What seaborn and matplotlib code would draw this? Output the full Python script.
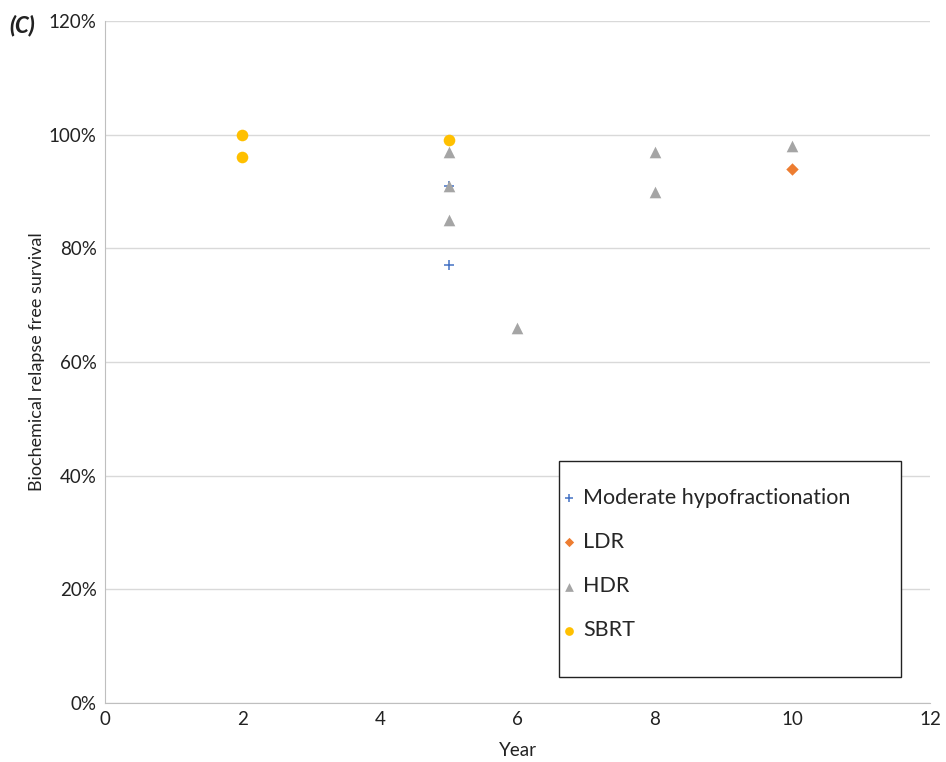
import pandas as pd
import matplotlib.pyplot as plt
from matplotlib.patches import Rectangle
from matplotlib.ticker import PercentFormatter
import seaborn as sns

# Values (year, % survival)
hypo_years = [5, 5]
hypo_rfs = [91, 77]
ldr_years = [10]
ldr_rfs = [94]
hdr_years = [5, 5, 5, 6, 8, 8, 10]
hdr_rfs = [97, 91, 85, 66, 97, 90, 98]
sbrt_years = [2, 2, 5]
sbrt_rfs = [100, 96, 99]

groups = ['Moderate hypofractionation', 'LDR', 'HDR', 'SBRT']
colors = ['#4472C4', '#ED7D31', '#A5A5A5', '#FFC000']

rows = []
for name, xs, ys in zip(groups,
                        [hypo_years, ldr_years, hdr_years, sbrt_years],
                        [hypo_rfs, ldr_rfs, hdr_rfs, sbrt_rfs]):
    for x, y in zip(xs, ys):
        rows.append({'Year': x, 'RFS': y, 'Group': name})
df = pd.DataFrame(rows)

sns.set_style('white')
plt.rcParams['font.family'] = ['Lato', 'DejaVu Sans']

fig = plt.figure(figsize=(9.46, 7.62), dpi=100)
ax = fig.add_axes([0.111, 0.0774, 0.872, 0.895])

pal = dict(zip(groups, colors))
mk = dict(zip(groups, ['+', 'D', '^', 'o']))
sizes = {'Moderate hypofractionation': 50, 'LDR': 40, 'HDR': 70, 'SBRT': 70}
zo = {'Moderate hypofractionation': 2.5, 'LDR': 3, 'HDR': 3.5, 'SBRT': 4}

for g in groups:
    sub = df[df['Group'] == g]
    sns.scatterplot(data=sub, x='Year', y='RFS', ax=ax, color=pal[g],
                    marker=mk[g], s=sizes[g],
                    linewidth=1.1 if g == groups[0] else 0,
                    label=g, zorder=zo[g])

ax.set_xlim(0, 12)
ax.set_ylim(0, 120)
ax.set_xticks(range(0, 13, 2))
ax.set_yticks(range(0, 121, 20))
ax.yaxis.set_major_formatter(PercentFormatter(decimals=0))
ax.grid(axis='y', color='#D9D9D9', linewidth=1)
ax.set_axisbelow(True)
for side in ['top', 'right']:
    ax.spines[side].set_visible(False)
ax.spines['left'].set_color('#BFBFBF')
ax.spines['bottom'].set_color('#BFBFBF')
ax.tick_params(labelsize=13.5, length=0, pad=6, colors='#222222')
ax.set_xlabel('Year', fontsize=13.5, color='#222222', labelpad=10)
ax.set_ylabel('Biochemical relapse free survival', fontsize=13, color='#222222',
              labelpad=3)

# legend box
ax.add_patch(Rectangle((0.550, 0.038), 0.4145, 0.317, transform=ax.transAxes,
                       fill=True, facecolor='white', edgecolor='#222222',
                       linewidth=1, zorder=5))
handles, labels = ax.get_legend_handles_labels()
leg = ax.legend(handles, labels, loc='upper left', bbox_to_anchor=(0.539, 0.328),
                frameon=False, fontsize=15.5, labelspacing=1.12, handletextpad=0.15,
                handlelength=1.0, markerscale=0.75, borderaxespad=0)
leg.set_zorder(6)

fig.text(0.010, 0.958, '(C)', fontsize=16, fontweight='black', fontstyle='italic',
         color='#222222')

fig.savefig('out.png', dpi=100)
